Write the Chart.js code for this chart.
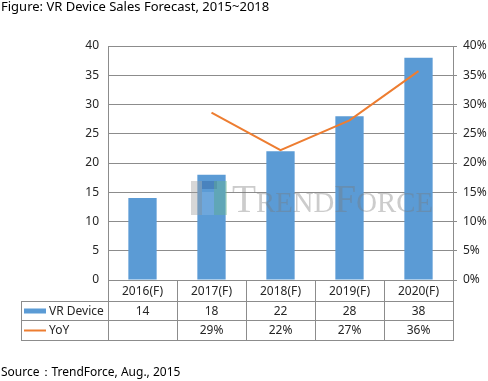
<!DOCTYPE html>
<html>
<head>
<meta charset="utf-8">
<script src="https://cdn.jsdelivr.net/npm/chart.js@4"></script>
<style>
html,body{margin:0;padding:0;background:#fff;}
#wrap{position:relative;width:488px;height:381px;}
</style>
</head>
<body>
<div id="wrap"><canvas id="c" width="488" height="381"></canvas></div>
<script>
const titleText = 'Figure: VR Device Sales Forecast, 2015~2018';
const sourceText = 'Source\uFF1ATrendForce, Aug., 2015';
const categories = ['2016(F)', '2017(F)', '2018(F)', '2019(F)', '2020(F)'];
const vrDevice = [14, 18, 22, 28, 38];
const yoy = [null, 28.6, 22.2, 27.3, 35.7];
const yoyLabels = ['', '29%', '22%', '27%', '36%'];
const seriesNames = ['VR Device', 'YoY'];

const FONT = '"Noto Sans", "DejaVu Sans", sans-serif';
const GRID = '#8c8c8c';
const TEXT = '#262626';
const BLUE = '#5B9BD5';
const ORANGE = '#ED7D31';

const tablePlugin = {
  id: 'tablePlugin',
  afterDraw(chart) {
    const ctx = chart.ctx;
    const x = chart.scales.x;
    const area = chart.chartArea;
    const left = area.left, right = area.right, top = area.bottom;
    const legendLeft = 21;
    const r1 = top + 21, r2 = top + 40, r3 = top + 60;
    ctx.save();
    ctx.strokeStyle = GRID;
    ctx.lineWidth = 1;
    ctx.beginPath();
    [r1, r2, r3].forEach(y => { ctx.moveTo(legendLeft, y + 0.5); ctx.lineTo(right, y + 0.5); });
    ctx.moveTo(legendLeft + 0.5, r1); ctx.lineTo(legendLeft + 0.5, r3 + 1);
    const step = (right - left) / categories.length;
    for (let i = 0; i <= categories.length; i++) {
      const xx = Math.round(left + i * step) + 0.5;
      ctx.moveTo(xx, top); ctx.lineTo(xx, r3 + 1);
    }
    ctx.stroke();

    ctx.fillStyle = TEXT;
    ctx.font = '12px ' + FONT;
    ctx.textAlign = 'center';
    ctx.textBaseline = 'middle';
    categories.forEach((c, i) => {
      const cx = x.getPixelForValue(i);
      ctx.fillText(c, cx, (top + r1) / 2 + 1);
      ctx.fillText(String(vrDevice[i]), cx, (r1 + r2) / 2 + 1);
      ctx.fillText(yoyLabels[i], cx, (r2 + r3) / 2 + 1);
    });
    // legend keys
    ctx.textAlign = 'left';
    ctx.fillStyle = BLUE;
    ctx.fillRect(24, (r1 + r2) / 2 - 2, 22, 5);
    ctx.strokeStyle = ORANGE;
    ctx.lineWidth = 2;
    ctx.beginPath();
    ctx.moveTo(24, (r2 + r3) / 2 + 0.5); ctx.lineTo(46, (r2 + r3) / 2 + 0.5);
    ctx.stroke();
    ctx.fillStyle = TEXT;
    ctx.fillText(seriesNames[0], 49, (r1 + r2) / 2 + 1);
    ctx.fillText(seriesNames[1], 49, (r2 + r3) / 2 + 1);

    // title and source
    ctx.font = '13px ' + FONT;
    ctx.fillStyle = '#000';
    ctx.fillText(titleText, 1, 7);
    ctx.font = '12px ' + FONT;
    ctx.fillText(sourceText, 1, 373);

    // watermark
    ctx.globalAlpha = 0.4;
    ctx.fillStyle = '#9a9a9a';
    ctx.fillRect(191, 181, 11, 34);
    ctx.fillStyle = '#2f5f9a';
    ctx.fillRect(202, 181, 15, 8);
    ctx.fillStyle = '#6ab78a';
    ctx.fillRect(214, 181, 13, 34);
    ctx.fillStyle = '#8db8e6';
    ctx.fillRect(202, 192, 12, 23);
    ctx.globalAlpha = 0.38;
    ctx.fillStyle = '#7a7a7a';
    ctx.textBaseline = 'alphabetic';
    const parts = [['T', 41], ['REND', 30], ['F', 41], ['ORCE', 30]];
    let total = 0;
    parts.forEach(([t, s]) => {
      ctx.font = s + 'px "Liberation Serif", serif';
      total += ctx.measureText(t).width;
    });
    const sx = 201 / total;
    ctx.translate(232, 212);
    ctx.scale(sx, 1);
    let px = 0;
    parts.forEach(([t, s]) => {
      ctx.font = s + 'px "Liberation Serif", serif';
      ctx.fillText(t, px, 0);
      px += ctx.measureText(t).width;
    });
    ctx.restore();
  }
};

new Chart(document.getElementById('c'), {
  data: {
    labels: categories,
    datasets: [
      {
        type: 'bar',
        label: seriesNames[0],
        data: vrDevice,
        backgroundColor: BLUE,
        yAxisID: 'y',
        barPercentage: 0.41,
        categoryPercentage: 1.0,
        order: 2
      },
      {
        type: 'line',
        label: seriesNames[1],
        data: yoy,
        borderColor: ORANGE,
        borderWidth: 2,
        pointRadius: 0,
        tension: 0,
        spanGaps: false,
        yAxisID: 'y1',
        order: 1
      }
    ]
  },
  options: {
    responsive: false,
    animation: false,
    events: [],
    layout: { padding: { top: 46, bottom: 101, left: 0, right: 0 } },
    plugins: { legend: { display: false }, tooltip: { enabled: false }, title: { display: false } },
    scales: {
      x: { type: 'category', display: false, offset: true },
      y: {
        position: 'left',
        min: 0, max: 40,
        ticks: { stepSize: 5, color: TEXT, font: { family: FONT, size: 12 }, padding: 9 },
        grid: { color: GRID, drawTicks: false },
        border: { display: true, color: GRID },
        afterFit(s) { s.width = 108; }
      },
      y1: {
        position: 'right',
        min: 0, max: 40,
        ticks: { stepSize: 5, color: TEXT, font: { family: FONT, size: 12 }, padding: 6, callback: v => v + '%' },
        grid: { drawOnChartArea: false, color: GRID, tickLength: 4 },
        border: { display: true, color: GRID },
        afterFit(s) { s.width = 35; }
      }
    }
  },
  plugins: [tablePlugin]
});
</script>
</body>
</html>
